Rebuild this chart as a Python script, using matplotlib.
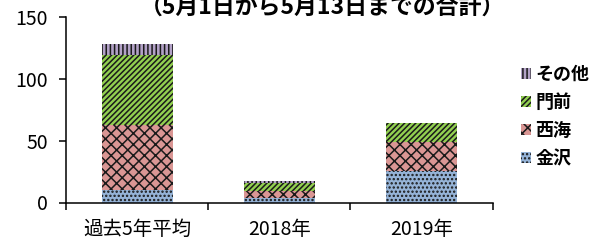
import matplotlib
matplotlib.use("Agg")
import matplotlib.pyplot as plt
from matplotlib.patches import Patch

plt.rcParams['font.family'] = ['Noto Sans CJK JP', 'DejaVu Sans']
plt.rcParams['hatch.linewidth'] = 1.1

categories = ['過去5年平均', '2018年', '2019年']
kanazawa = [10.3, 3.6, 25.7]
saikai = [52.1, 5.9, 23.0]
monzen = [56.8, 6.2, 15.7]
sonota = [9.3, 1.9, 0.0]

series = [
    ('金沢', kanazawa, '#95b3d7', '....'),
    ('西海', saikai, '#da9694', 'xxx'),
    ('門前', monzen, '#92d050', '//////'),
    ('その他', sonota, '#b3a2c7', '||||'),
]

fig = plt.figure(figsize=(6.01, 2.44), dpi=100)
ax = fig.add_axes([66 / 601, 41.5 / 244, 426.7 / 601, 185.2 / 244])

x = list(range(len(categories)))
bottom = [0.0] * len(categories)
for name, vals, color, hatch in series:
    ax.bar(x, vals, width=0.5, bottom=bottom, color=color, hatch=hatch,
           edgecolor='#1a1a1a', linewidth=0)
    bottom = [b + v for b, v in zip(bottom, vals)]

ax.set_xlim(-0.5, 2.5)
ax.set_ylim(0, 150)
ax.set_yticks([0, 50, 100, 150])
ax.set_xticks(x)
ax.set_xticklabels(categories)
ax.set_xticks([-0.5, 0.5, 1.5, 2.5], minor=True)
ax.tick_params(axis='x', which='major', length=0, pad=12, labelsize=14)
ax.tick_params(axis='x', which='minor', length=5, width=1.1, direction='out')
ax.tick_params(axis='y', length=5, width=1.1, pad=8, labelsize=14)

for s in ['top', 'right']:
    ax.spines[s].set_visible(False)
for s in ['left', 'bottom']:
    ax.spines[s].set_linewidth(1.1)

handles = [Patch(facecolor=c, hatch=h, edgecolor='#1a1a1a', linewidth=0, label=n)
           for n, v, c, h in reversed(series)]
fig.legend(handles=handles, loc='upper left', bbox_to_anchor=(521 / 601, 1 - 65 / 244),
           frameon=False, prop={'weight': 'bold', 'size': 13},
           handlelength=0.55, handleheight=0.55, handletextpad=0.25,
           labelspacing=0.5, borderaxespad=0, borderpad=0)

# title is partly clipped at the top edge, as in the original
fig.text(322 / 601, 1 - 8 / 244, '（5月1日から5月13日までの合計）', ha='center', va='center',
         fontsize=16.5, fontweight='bold')

fig.savefig('out.png', dpi=100)
